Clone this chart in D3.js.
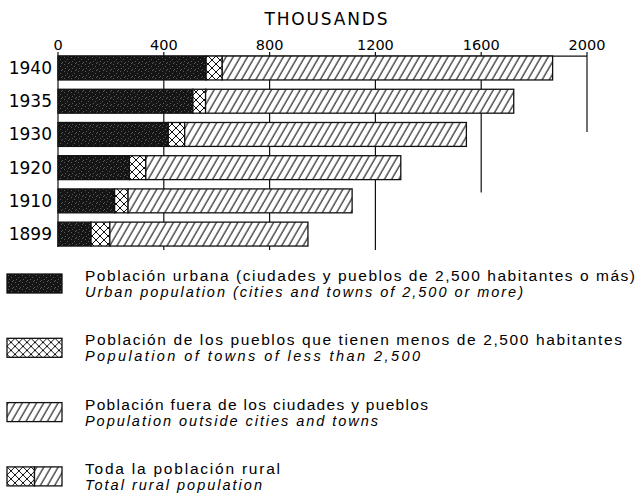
<!DOCTYPE html>
<html>
<head>
<meta charset="utf-8">
<script src="https://cdn.jsdelivr.net/npm/d3@7"></script>
<style>
  body { margin: 0; background: #fff; }
  svg { display: block; }
</style>
</head>
<body>
<div id="chart"></div>
<script>
// data (thousands of people)
const years = ["1940", "1935", "1930", "1920", "1910", "1899"];
const urban = [560, 510, 417, 270, 214, 125];
const smallTowns = [61, 48, 62, 62, 51, 71];
const outside = [1249, 1165, 1065, 964, 847, 749];
const tickValues = [0, 400, 800, 1200, 1600, 2000];
const title = "THOUSANDS";
const legendEs = [
    "Población urbana (ciudades y pueblos de 2,500 habitantes o más)",
    "Población de los pueblos que tienen menos de 2,500 habitantes",
    "Población fuera de los ciudades y pueblos",
    "Toda la población rural"
];
const legendEn = [
    "Urban population (cities and towns of 2,500 or more)",
    "Population of towns of less than 2,500",
    "Population outside cities and towns",
    "Total rural population"
];

const width = 639, height = 504;
const font = "'DejaVu Sans', sans-serif";
const legendFont = "'Liberation Sans', Arial, sans-serif";

const svg = d3.select("#chart").append("svg")
    .attr("width", width)
    .attr("height", height);

// patterns
const defs = svg.append("defs");

const stipple = defs.append("pattern")
    .attr("id", "urban")
    .attr("patternUnits", "userSpaceOnUse")
    .attr("width", 7).attr("height", 7);
stipple.append("rect").attr("width", 7).attr("height", 7).attr("fill", "#151515");
[[1, 1], [4, 3], [2, 5], [6, 6], [5, 0]].forEach(([cx, cy]) => {
    stipple.append("rect").attr("x", cx).attr("y", cy)
        .attr("width", 1).attr("height", 1).attr("fill", "#5a5a5a");
});

const cross = defs.append("pattern")
    .attr("id", "cross")
    .attr("patternUnits", "userSpaceOnUse")
    .attr("width", 8).attr("height", 8);
cross.append("rect").attr("width", 8).attr("height", 8).attr("fill", "#fff");
cross.append("path").attr("d", "M0,0L8,8M8,0L0,8M-1,7L1,9M7,-1L9,1")
    .attr("stroke", "#111").attr("stroke-width", 1);

const hatch = defs.append("pattern")
    .attr("id", "hatch")
    .attr("patternUnits", "userSpaceOnUse")
    .attr("width", 6.2).attr("height", 10)
    .attr("patternTransform", "rotate(30)");
hatch.append("rect").attr("width", 6.2).attr("height", 10).attr("fill", "#fff");
hatch.append("line").attr("x1", 1).attr("x2", 1).attr("y1", 0).attr("y2", 10)
    .attr("stroke", "#111").attr("stroke-width", 1.1);

// scales
const x = d3.scaleLinear().domain([0, 2000]).range([58, 587]);
const y = d3.scaleBand().domain(years).range([51.4, 250.7])
    .paddingInner(0.28).paddingOuter(0.14);

// title
svg.append("text")
    .attr("x", 326).attr("y", 25)
    .attr("text-anchor", "middle")
    .attr("font-family", font)
    .attr("font-size", 17)
    .attr("textLength", 123)
    .text(title);

// grid lines (some stop part way down, as in the print)
const gridEnd = v => v === 2000 ? y("1930") + y.bandwidth() * 0.4
    : v === 1600 ? y("1910") + y.bandwidth() * 0.15
    : y("1899") + y.bandwidth() + 4;

svg.append("g").selectAll("line")
    .data(tickValues)
    .join("line")
    .attr("x1", d => x(d)).attr("x2", d => x(d))
    .attr("y1", 52).attr("y2", d => d === 0 ? y("1899") + y.bandwidth() + 1 : gridEnd(d))
    .attr("stroke", "#111").attr("stroke-width", 1.2);

svg.append("line")
    .attr("x1", x(0)).attr("x2", x(2000))
    .attr("y1", y("1940")).attr("y2", y("1940"))
    .attr("stroke", "#111").attr("stroke-width", 1.2);

// tick labels
svg.append("g").selectAll("text")
    .data(tickValues)
    .join("text")
    .attr("x", d => x(d)).attr("y", 50)
    .attr("text-anchor", "middle")
    .attr("font-family", font)
    .attr("font-size", 14.5)
    .text(d => d);

// bars
const rows = years.map((yr, i) => ({
    year: yr, urban: urban[i], towns: smallTowns[i], outside: outside[i]
}));
const keys = ["urban", "towns", "outside"];
const fills = { urban: "url(#urban)", towns: "url(#cross)", outside: "url(#hatch)" };
const stack = d3.stack().keys(keys)(rows);

svg.append("g").selectAll("g")
    .data(stack)
    .join("g")
    .attr("fill", d => fills[d.key])
    .selectAll("rect")
    .data(d => d)
    .join("rect")
    .attr("x", d => x(d[0]))
    .attr("y", d => y(d.data.year))
    .attr("width", d => x(d[1]) - x(d[0]))
    .attr("height", y.bandwidth())
    .attr("stroke", "#111")
    .attr("stroke-width", 1.3);

// year labels
svg.append("g").selectAll("text")
    .data(years)
    .join("text")
    .attr("x", 52)
    .attr("y", d => y(d) + y.bandwidth() / 2 + 6)
    .attr("text-anchor", "end")
    .attr("font-family", font)
    .attr("font-size", 17)
    .text(d => d);

// legend
const legendFills = [["url(#urban)"], ["url(#cross)"], ["url(#hatch)"], ["url(#cross)", "url(#hatch)"]];
const esWidths = [550, 537, 343, 195];
const enWidths = [438, 335, 293, 177];

legendEs.forEach((label, i) => {
    const top = 274 + i * 64.3;
    const g = svg.append("g").attr("transform", `translate(7, ${top})`);
    const parts = legendFills[i];
    const sw = 55 / parts.length;
    parts.forEach((f, j) => {
        g.append("rect")
            .attr("x", j * sw).attr("y", 0)
            .attr("width", sw).attr("height", 19)
            .attr("fill", f)
            .attr("stroke", "#111").attr("stroke-width", 1.3);
    });
    g.append("text")
        .attr("x", 78).attr("y", 7)
        .attr("font-family", legendFont)
        .attr("font-size", 15.5)
        .attr("textLength", esWidths[i])
        .attr("lengthAdjust", "spacing")
        .text(label);
    g.append("text")
        .attr("x", 78).attr("y", 23)
        .attr("font-family", legendFont)
        .attr("font-style", "italic")
        .attr("font-size", 14.5)
        .attr("textLength", enWidths[i])
        .attr("lengthAdjust", "spacing")
        .text(legendEn[i]);
});
</script>
</body>
</html>
